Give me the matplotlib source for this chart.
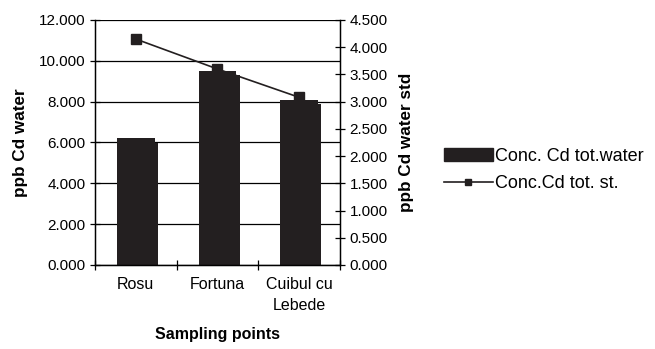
import matplotlib.pyplot as plt
import matplotlib.patheffects as pe
from matplotlib.ticker import FixedLocator, FormatStrFormatter

plt.rcParams['font.family'] = ['Liberation Sans', 'DejaVu Sans']

sites = ['Rosu', 'Fortuna', 'Cuibul cu\nLebede']
cd_water = [6.2, 9.5, 8.1]        # ppb, left axis
cd_std = [4.15, 3.6, 3.08]        # ppb, right axis

dark = '#231f20'

fig = plt.figure(figsize=(6.55, 3.49), dpi=100)
ax = fig.add_axes([0.145, 0.2407, 0.374, 0.702])
x = list(range(len(sites)))

ax.bar(x, cd_water, width=0.46, color=dark, zorder=2,
       path_effects=[pe.SimplePatchShadow(offset=(2.5, -3), shadow_rgbFace=dark, alpha=1),
                     pe.Normal()])
ax.set_ylim(0, 12)
ax.set_xlim(-0.5, 2.5)
ax.set_yticks([0, 2, 4, 6, 8, 10, 12])
ax.yaxis.set_major_formatter(FormatStrFormatter('%.3f'))
ax.yaxis.grid(True, color='black', linewidth=0.9, zorder=0)
ax.set_axisbelow(True)

ax.set_xticks(x)
ax.set_xticklabels(sites, fontsize=11.5, linespacing=1.5)
ax.xaxis.set_minor_locator(FixedLocator([-0.5, 0.5, 1.5, 2.5]))
ax.tick_params(axis='x', which='major', length=0, pad=9)
ax.tick_params(axis='x', which='minor', direction='inout', length=7, width=0.9)
ax.tick_params(axis='y', direction='inout', length=7, width=0.9, labelsize=11)

ax.spines['top'].set_visible(False)
for s in ['left', 'bottom']:
    ax.spines[s].set_linewidth(1.0)

ax.set_ylabel('ppb Cd water', fontsize=12.3, fontweight='bold', labelpad=8)
ax.set_xlabel('Sampling points', fontsize=11.5, fontweight='bold', labelpad=10)

ax2 = ax.twinx()
ax2.plot(x, cd_std, color=dark, linewidth=1.2, marker='s', markersize=7, zorder=3)
ax2.set_ylim(0, 4.5)
ax2.set_yticks([0, 0.5, 1, 1.5, 2, 2.5, 3, 3.5, 4, 4.5])
ax2.yaxis.set_major_formatter(FormatStrFormatter('%.3f'))
ax2.tick_params(axis='y', direction='inout', length=7, width=0.9, labelsize=11)
ax2.spines['top'].set_visible(False)
ax2.spines['right'].set_linewidth(1.0)
ax2.set_ylabel('ppb Cd water std', fontsize=12.3, fontweight='bold', labelpad=8)

h1 = plt.Rectangle((0, 0), 1, 1, color=dark)
h2 = plt.Line2D([], [], color=dark, linewidth=1.2, marker='s', markersize=5)
fig.legend([h1, h2], ['Conc. Cd tot.water', 'Conc.Cd tot. st.'],
           loc='center left', bbox_to_anchor=(0.672, 0.513), frameon=False,
           fontsize=13, handlelength=2.7, handletextpad=0.15, labelspacing=0.55,
           borderaxespad=0, borderpad=0.2)

fig.savefig('out.png', dpi=100)
